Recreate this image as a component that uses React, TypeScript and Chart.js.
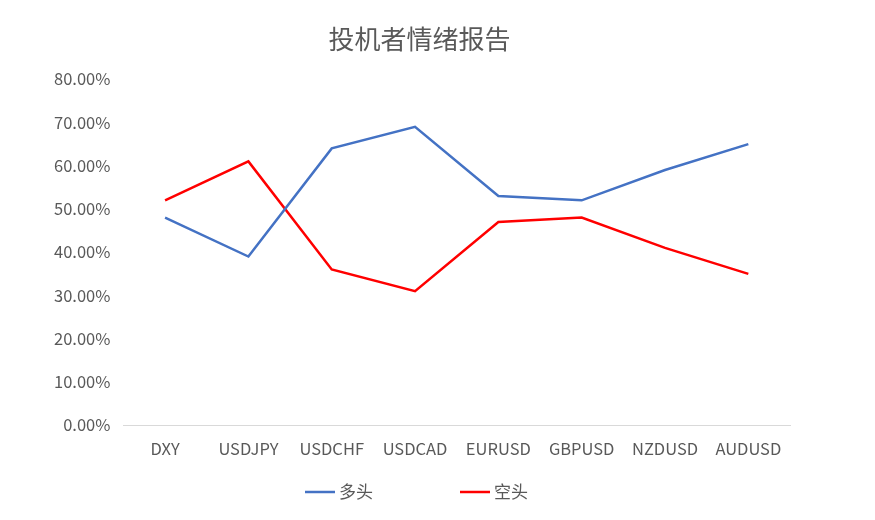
import { useEffect, useRef } from 'react';
import { Chart, registerables } from 'chart.js';
import type { Plugin } from 'chart.js';

Chart.register(...registerables);

const title = '投机者情绪报告';
const categories = ['DXY', 'USDJPY', 'USDCHF', 'USDCAD', 'EURUSD', 'GBPUSD', 'NZDUSD', 'AUDUSD'];
const longLabel = '多头';
const longValues = [0.48, 0.39, 0.64, 0.69, 0.53, 0.52, 0.59, 0.65];
const shortLabel = '空头';
const shortValues = [0.52, 0.61, 0.36, 0.31, 0.47, 0.48, 0.41, 0.35];

const FONT = '"Noto Sans CJK SC", "Noto Sans", sans-serif';
const TEXT = '#595959';

// legend drawn by hand: Excel spaces its entries much wider than Chart.js can
const bottomLegend: Plugin<'line'> = {
  id: 'bottomLegend',
  afterDraw(chart) {
    const ctx = chart.ctx;
    const y = 492;
    let x = 305;
    ctx.save();
    ctx.font = `17px ${FONT}`;
    ctx.textBaseline = 'middle';
    ctx.textAlign = 'left';
    chart.data.datasets.forEach((ds) => {
      ctx.strokeStyle = ds.borderColor as string;
      ctx.lineWidth = 2.5;
      ctx.beginPath();
      ctx.moveTo(x, y);
      ctx.lineTo(x + 30, y);
      ctx.stroke();
      ctx.fillStyle = TEXT;
      ctx.fillText(ds.label ?? '', x + 34, y);
      x += 34 + ctx.measureText(ds.label ?? '').width + 87;
    });
    ctx.restore();
  },
};

export default function App() {
  const canvasRef = useRef<HTMLCanvasElement>(null);
  const chartRef = useRef<Chart | null>(null);

  useEffect(() => {
    if (!canvasRef.current) return;
    if (chartRef.current) chartRef.current.destroy();

    chartRef.current = new Chart(canvasRef.current, {
      type: 'line',
      data: {
        labels: categories,
        datasets: [
          {
            label: longLabel,
            data: longValues,
            borderColor: '#4472C4',
            backgroundColor: '#4472C4',
            borderWidth: 2.5,
            pointRadius: 0,
            tension: 0,
          },
          {
            label: shortLabel,
            data: shortValues,
            borderColor: '#FF0000',
            backgroundColor: '#FF0000',
            borderWidth: 2.5,
            pointRadius: 0,
            tension: 0,
          },
        ],
      },
      options: {
        responsive: true,
        maintainAspectRatio: false,
        animation: false,
        layout: { padding: { left: 49, right: 85, top: 20, bottom: 55 } },
        plugins: {
          title: {
            display: true,
            text: title,
            color: TEXT,
            font: { family: FONT, size: 26, weight: 'normal' },
            padding: { top: 4, bottom: 24 },
          },
          legend: { display: false },
          tooltip: { enabled: false },
        },
        scales: {
          x: {
            offset: true,
            grid: { display: false },
            border: { color: '#D9D9D9' },
            ticks: { color: TEXT, font: { family: FONT, size: 16.5 }, padding: 6 },
          },
          y: {
            min: 0,
            max: 0.8,
            grid: { display: false },
            border: { display: false },
            ticks: {
              stepSize: 0.1,
              color: TEXT,
              font: { family: FONT, size: 16.5 },
              padding: 5,
              callback: (v) => (Number(v) * 100).toFixed(2) + '%',
            },
          },
        },
      },
      plugins: [bottomLegend],
    });

    return () => { chartRef.current?.destroy(); };
  }, []);

  return (
    <div style={{ position: 'fixed', left: 0, top: 0, width: 875, height: 520, background: '#fff' }}>
      <canvas ref={canvasRef} />
    </div>
  );
}
